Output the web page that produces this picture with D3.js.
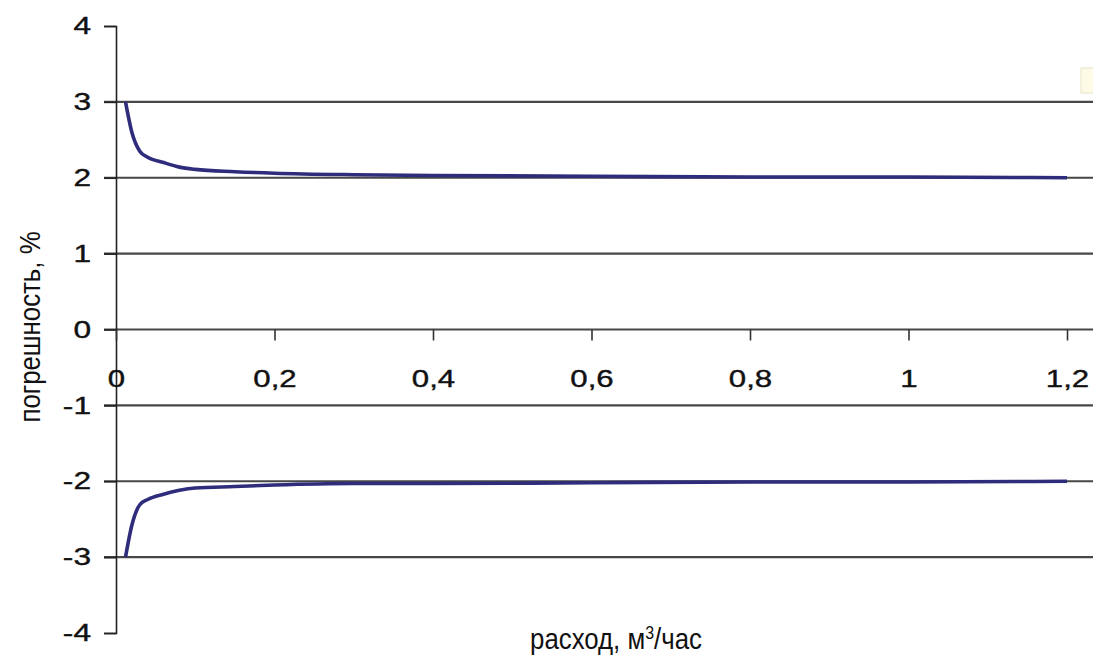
<!DOCTYPE html>
<html>
<head>
<meta charset="utf-8">
<script src="https://cdn.jsdelivr.net/npm/d3@7"></script>
<style>
  body { margin: 0; background: #fff; }
  text { font-family: "Liberation Sans", Arial, sans-serif; fill: #111; }
</style>
</head>
<body>
<div class="chart"></div>
<script>
// size of the whole picture
var W = 1093, H = 655;

// data: flow, m3/h -> error, %
var flow = [0.012, 0.02, 0.03, 0.04, 0.06, 0.08, 0.1, 0.15, 0.2, 0.3, 0.4, 0.6, 0.8, 1.0, 1.2];
var upperErr = [3.0, 2.6, 2.35, 2.27, 2.2, 2.14, 2.11, 2.08, 2.06, 2.04, 2.03, 2.02, 2.01, 2.01, 2.0];
var lowerErr = [-3.0, -2.58, -2.31, -2.24, -2.17, -2.12, -2.09, -2.07, -2.05, -2.03, -2.03, -2.02, -2.01, -2.01, -2.0];

var yTicks = [4, 3, 2, 1, 0, -1, -2, -3, -4];
var xTicks = [0, 0.2, 0.4, 0.6, 0.8, 1, 1.2];
var xTickLabels = ["0", "0,2", "0,4", "0,6", "0,8", "1", "1,2"];

var xScale = d3.scaleLinear().domain([0, 1.2]).range([116, 1067]);
var yScale = d3.scaleLinear().domain([-4, 4]).range([633, 26]);

var svg = d3.select("div.chart").append("svg")
    .attr("width", W)
    .attr("height", H);

// bit of the legend box cut off at the right edge
svg.append("rect")
    .attr("x", 1081).attr("y", 68)
    .attr("width", 14).attr("height", 25)
    .attr("fill", "#fdfbe6")
    .attr("stroke", "#e6e3c8");

// horizontal grid lines (skip the ends of the axis)
svg.append("g").selectAll("line")
    .data(yTicks.filter(function(d) { return d !== 4 && d !== -4; }))
    .enter().append("line")
    .attr("x1", 104)
    .attr("x2", W)
    .attr("y1", function(d) { return yScale(d); })
    .attr("y2", function(d) { return yScale(d); })
    .attr("stroke", "#474747")
    .attr("stroke-width", 2.2);

// y axis
var yAxis = d3.axisLeft(yScale)
    .tickValues(yTicks)
    .tickSize(12)
    .tickFormat(function(d) { return d; });

var gy = svg.append("g")
    .attr("transform", "translate(116,0)")
    .call(yAxis);
gy.select(".domain").attr("stroke", "#222").attr("stroke-width", 1.6);
gy.selectAll(".tick line").attr("stroke", "#222").attr("stroke-width", 1.6);
// labels are wide in the picture, stretch them a bit
gy.selectAll(".tick text")
    .attr("x", null)
    .attr("text-anchor", "end")
    .attr("transform", "translate(-25,0) scale(1.32,1)")
    .style("font-size", "24px")
    .attr("fill", "#111")
    .attr("stroke", "#111")
    .attr("stroke-width", 0.4);

// x axis sitting on zero
var xAxis = d3.axisBottom(xScale)
    .tickValues(xTicks)
    .tickSize(11)
    .tickPadding(14)
    .tickFormat(function(d, i) { return xTickLabels[i]; });

var gx = svg.append("g")
    .attr("transform", "translate(0," + yScale(0) + ")")
    .call(xAxis);
gx.select(".domain").remove();
gx.selectAll(".tick line").attr("stroke", "#333").attr("stroke-width", 1.6);
gx.selectAll(".tick text")
    .attr("y", null)
    .attr("dy", null)
    .attr("transform", "translate(0,57) scale(1.3,1)")
    .style("font-size", "24px")
    .attr("fill", "#111")
    .attr("stroke", "#111")
    .attr("stroke-width", 0.4);

// curves
var line = d3.line()
    .x(function(d) { return xScale(d[0]); })
    .y(function(d) { return yScale(d[1]); })
    .curve(d3.curveMonotoneX);

[upperErr, lowerErr].forEach(function(series) {
    svg.append("path")
        .datum(flow.map(function(f, i) { return [f, series[i]]; }))
        .attr("d", line)
        .attr("fill", "none")
        .attr("stroke", "#2f2c7c")
        .attr("stroke-width", 3.6)
        .attr("stroke-linejoin", "round");
});

// axis titles (a bit taller and narrower than plain Arial)
svg.append("text")
    .attr("transform", "translate(40,327) rotate(-90) scale(0.89,1)")
    .style("text-anchor", "middle")
    .style("font-size", "29px")
    .text("погрешность, %");

var xt = svg.append("text")
    .attr("transform", "translate(616,649) scale(0.89,1)")
    .style("text-anchor", "middle")
    .style("font-size", "29px");
xt.append("tspan").text("расход, м");
xt.append("tspan").attr("dy", -10).style("font-size", "18px").text("3");
xt.append("tspan").attr("dy", 10).text("/час");
</script>
</body>
</html>
